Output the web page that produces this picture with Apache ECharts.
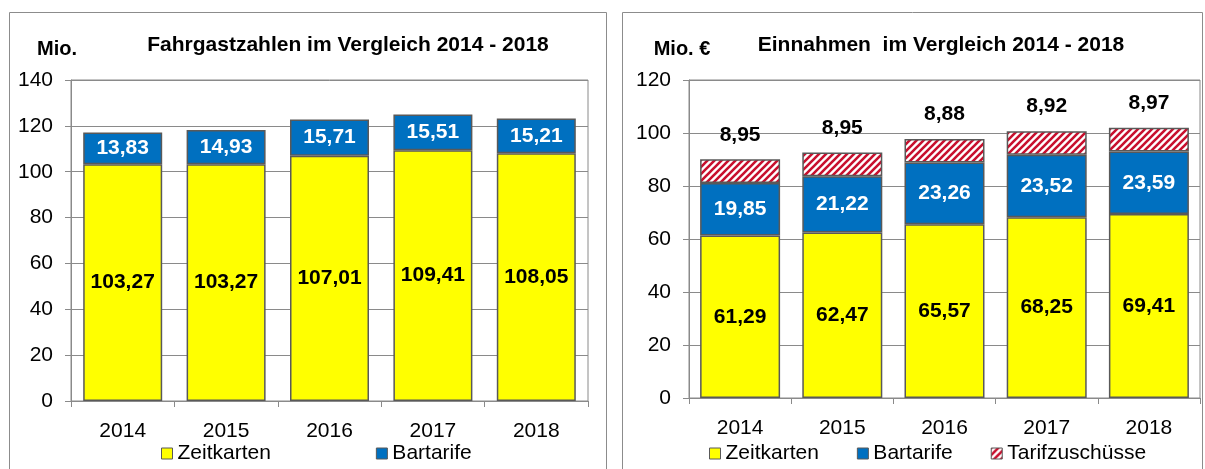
<!DOCTYPE html>
<html>
<head>
<meta charset="utf-8">
<script src="https://cdn.jsdelivr.net/npm/echarts@6/dist/echarts.min.js"></script>
<style>
html,body{margin:0;padding:0;background:#fff;}
#c{width:1205px;height:469px;}
</style>
</head>
<body>
<div id="c"></div>
<script>
// ---- Data ----
const years = ['2014', '2015', '2016', '2017', '2018'];
// Left chart: Fahrgastzahlen (Mio.)
const passZeitkarten = [103.27, 103.27, 107.01, 109.41, 108.05];
const passBartarife = [13.83, 14.93, 15.71, 15.51, 15.21];
// Right chart: Einnahmen (Mio. €)
const revZeitkarten = [61.29, 62.47, 65.57, 68.25, 69.41];
const revBartarife = [19.85, 21.22, 23.26, 23.52, 23.59];
const revTarifzuschuesse = [8.95, 8.95, 8.88, 8.92, 8.97];
const leftTicks = { min: 0, max: 140, interval: 20 };
const rightTicks = { min: 0, max: 120, interval: 20 };
const leftTitle = 'Fahrgastzahlen im Vergleich 2014 - 2018';
const rightTitle = 'Einnahmen  im Vergleich 2014 - 2018';
const leftUnit = 'Mio.';
const rightUnit = 'Mio. €';

// ---- Styles ----
const FONT = '"Liberation Sans", Arial, sans-serif';
const YELLOW = '#FFFF00';
const BLUE = '#0070C0';
const BORDER = '#595959';
const GRID = '#8a8a8a';

function hatch() {
  const s = 7;
  const c = document.createElement('canvas');
  c.width = s; c.height = s;
  const g = c.getContext('2d');
  g.fillStyle = '#ffffff';
  g.fillRect(0, 0, s, s);
  g.strokeStyle = '#C8102E';
  g.lineWidth = 2.6;
  g.beginPath();
  g.moveTo(-1, s + 1); g.lineTo(s + 1, -1);
  g.moveTo(-1, 1); g.lineTo(1, -1);
  g.moveTo(s - 1, s + 1); g.lineTo(s + 1, s - 1);
  g.stroke();
  return c;
}
const HATCH = { image: hatch(), repeat: 'repeat' };

const fmt = v => v.value.toFixed(2).replace('.', ',');

function labelStyle(color, pos, dist) {
  return {
    show: true, position: pos, distance: dist || 5, formatter: fmt,
    color: color, fontFamily: FONT, fontWeight: 'bold', fontSize: 21
  };
}

function yAxis(gi, t) {
  return {
    type: 'value', gridIndex: gi, min: t.min, max: t.max, interval: t.interval,
    axisLine: { show: true, lineStyle: { color: GRID, width: 1 } },
    axisTick: { show: true, length: 6, lineStyle: { color: GRID } },
    splitLine: { show: true, lineStyle: { color: GRID, width: 1 } },
    axisLabel: { color: '#000', fontFamily: FONT, fontSize: 21, margin: 18 }
  };
}
function xAxis(gi) {
  return {
    type: 'category', gridIndex: gi, data: years,
    axisLine: { show: true, lineStyle: { color: GRID, width: 1 } },
    axisTick: { show: true, length: 6, alignWithLabel: false, lineStyle: { color: GRID } },
    axisLabel: { color: '#000', fontFamily: FONT, fontSize: 21, margin: 20 }
  };
}

const chart = echarts.init(document.getElementById('c'), null, { renderer: 'canvas' });
chart.setOption({
  animation: false,
  backgroundColor: '#fff',
  grid: [
    { left: 71, top: 80, width: 517, height: 321, show: true, borderColor: GRID, borderWidth: 1, backgroundColor: 'transparent' },
    { left: 689, top: 80, width: 511, height: 318, show: true, borderColor: GRID, borderWidth: 1, backgroundColor: 'transparent' }
  ],
  xAxis: [xAxis(0), xAxis(1)],
  yAxis: [yAxis(0, leftTicks), yAxis(1, rightTicks)],
  legend: [
    {
      left: 156, top: 438, itemWidth: 11, itemHeight: 11, itemGap: 105, icon: 'rect',
      data: ['Zeitkarten', 'Bartarife'],
      textStyle: { fontFamily: FONT, fontSize: 21, color: '#000' },
      itemStyle: { borderColor: BORDER, borderWidth: 1 },
      selectedMode: false
    },
    {
      left: 704, top: 438, itemWidth: 11, itemHeight: 11, itemGap: 38, icon: 'rect',
      data: ['Zeitkarten R', 'Bartarife R', 'Tarifzuschüsse'],
      textStyle: { fontFamily: FONT, fontSize: 21, color: '#000' },
      itemStyle: { borderColor: BORDER, borderWidth: 1 },
      selectedMode: false,
      formatter: n => n.replace(/ R$/, '')
    }
  ],
  graphic: [
    { type: 'rect', z: -10, shape: { x: 9.5, y: 12.5, width: 597, height: 500 }, style: { fill: 'none', stroke: '#8c8c8c', lineWidth: 1 } },
    { type: 'rect', z: -10, shape: { x: 622.5, y: 12.5, width: 580, height: 500 }, style: { fill: 'none', stroke: '#8c8c8c', lineWidth: 1 } },
    { type: 'text', x: 348, y: 45, style: { text: leftTitle, font: 'bold 21px ' + FONT, fill: '#000', textAlign: 'center', textVerticalAlign: 'middle' } },
    { type: 'text', x: 941, y: 45, style: { text: rightTitle, font: 'bold 21px ' + FONT, fill: '#000', textAlign: 'center', textVerticalAlign: 'middle' } },
    { type: 'text', x: 57, y: 49, style: { text: leftUnit, font: 'bold 20px ' + FONT, fill: '#000', textAlign: 'center', textVerticalAlign: 'middle' } },
    { type: 'text', x: 682, y: 49, style: { text: rightUnit, font: 'bold 20px ' + FONT, fill: '#000', textAlign: 'center', textVerticalAlign: 'middle' } }
  ],
  series: [
    {
      name: 'Zeitkarten', type: 'bar', stack: 'L', xAxisIndex: 0, yAxisIndex: 0, barWidth: 79,
      data: passZeitkarten,
      itemStyle: { color: YELLOW, borderColor: BORDER, borderWidth: 1.5 },
      label: labelStyle('#000', 'inside')
    },
    {
      name: 'Bartarife', type: 'bar', stack: 'L', xAxisIndex: 0, yAxisIndex: 0, barWidth: 79,
      data: passBartarife,
      itemStyle: { color: BLUE, borderColor: BORDER, borderWidth: 1.5 },
      label: labelStyle('#fff', 'inside')
    },
    {
      name: 'Zeitkarten R', type: 'bar', stack: 'R', xAxisIndex: 1, yAxisIndex: 1, barWidth: 80,
      data: revZeitkarten,
      itemStyle: { color: YELLOW, borderColor: BORDER, borderWidth: 1.5 },
      label: labelStyle('#000', 'inside')
    },
    {
      name: 'Bartarife R', type: 'bar', stack: 'R', xAxisIndex: 1, yAxisIndex: 1, barWidth: 80,
      data: revBartarife,
      itemStyle: { color: BLUE, borderColor: BORDER, borderWidth: 1.5 },
      label: labelStyle('#fff', 'inside')
    },
    {
      name: 'Tarifzuschüsse', type: 'bar', stack: 'R', xAxisIndex: 1, yAxisIndex: 1, barWidth: 80,
      data: revTarifzuschuesse,
      itemStyle: { color: HATCH, borderColor: BORDER, borderWidth: 1.5 },
      label: labelStyle('#000', 'top', 14)
    }
  ]
});
</script>
</body>
</html>
